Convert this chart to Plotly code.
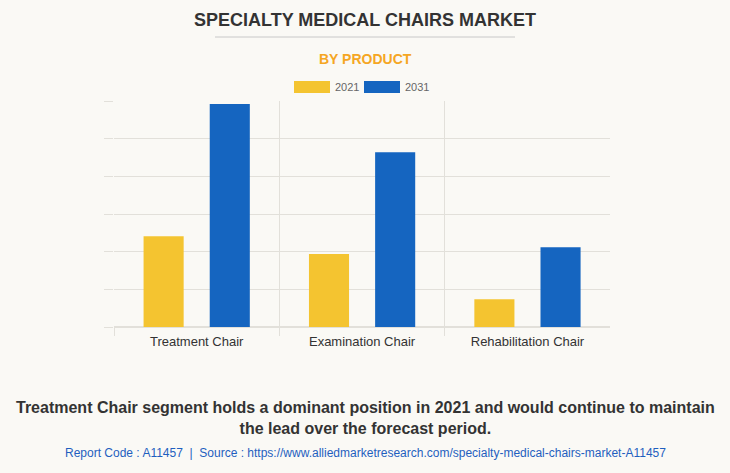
import plotly.graph_objects as go

categories = ["Treatment Chair", "Examination Chair", "Rehabilitation Chair"]
years = ["2021", "2031"]
values_2021 = [2.41, 1.94, 0.74]
values_2031 = [5.92, 4.64, 2.12]
colors = {"2021": "#F4C430", "2031": "#1565C0"}

FONT = "Liberation Sans, Arial, sans-serif"
BG = "#FAF9F5"
GRID = "#E2E0DA"

L, R, T, B = 114, 120, 101, 146
PW, PH = 730 - L - R, 473 - T - B


def px_x(x):
    return (x - L) / PW


def px_y(y):
    return (473 - B - y) / PH


fig = go.Figure()
for yr, vals in zip(years, [values_2021, values_2031]):
    fig.add_trace(go.Bar(x=categories, y=vals, name=yr, showlegend=False,
                         marker=dict(color=colors[yr], line=dict(width=0))))

fig.update_layout(
    width=730, height=473,
    paper_bgcolor=BG, plot_bgcolor=BG,
    margin=dict(l=L, r=R, t=T, b=B),
    barmode="group", bargap=0.2, bargroupgap=0.394,
    xaxis=dict(showgrid=True, gridcolor=GRID, tickson="boundaries",
               range=[-0.5, 2.499],
               ticks="outside", ticklen=8, tickcolor=GRID, ticklabelstandoff=5,
               tickfont=dict(family=FONT, size=13, color="#333"),
               showline=False, zeroline=False),
    yaxis=dict(range=[0, 6], dtick=1, showgrid=True, gridcolor=GRID,
               showticklabels=False, ticks="outside", ticklen=9, tickcolor=GRID,
               zeroline=True, zerolinecolor=GRID, showline=False),
    font=dict(family=FONT),
)

# custom legend (swatches + labels)
legend_items = [(years[0], 294, 330, 333), (years[1], 364, 400, 403)]
for yr, x0, x1, tx in legend_items:
    fig.add_shape(type="rect", xref="paper", yref="paper",
                  x0=px_x(x0), x1=px_x(x1), y0=px_y(93), y1=px_y(81),
                  fillcolor=colors[yr], line=dict(color=colors[yr], width=0))
    fig.add_annotation(text=yr, xref="paper", yref="paper", x=px_x(tx), y=px_y(87),
                       xanchor="left", yanchor="middle", showarrow=False,
                       font=dict(family=FONT, size=11, color="#666"))

fig.add_annotation(text="<b>SPECIALTY MEDICAL CHAIRS MARKET</b>", xref="paper", yref="paper",
                   x=px_x(365), y=px_y(20), xanchor="center", yanchor="middle",
                   showarrow=False, font=dict(family=FONT, size=18, color="#333"))
fig.add_shape(type="line", xref="paper", yref="paper",
              x0=px_x(215), x1=px_x(515), y0=px_y(37), y1=px_y(37),
              line=dict(color="#C8C8C8", width=1))
fig.add_annotation(text="<b>BY PRODUCT</b>", xref="paper", yref="paper",
                   x=px_x(365), y=px_y(59), xanchor="center", yanchor="middle",
                   showarrow=False, font=dict(family=FONT, size=14, color="#F5A623"))
fig.add_annotation(text="<b>Treatment Chair segment holds a dominant position in 2021 and would continue to maintain<br>the lead over the forecast period.</b>",
                   xref="paper", yref="paper", x=px_x(365), y=px_y(418),
                   xanchor="center", yanchor="middle", showarrow=False, align="center",
                   font=dict(family=FONT, size=16, color="#333"))
fig.add_annotation(text="Report Code : A11457  |  Source : https://www.alliedmarketresearch.com/specialty-medical-chairs-market-A11457",
                   xref="paper", yref="paper", x=px_x(365), y=px_y(453),
                   xanchor="center", yanchor="middle", showarrow=False,
                   font=dict(family=FONT, size=12, color="#1F5FBF"))

fig.write_html("out.html", post_script="document.body.style.margin='0';",
               config={"displayModeBar": False})
